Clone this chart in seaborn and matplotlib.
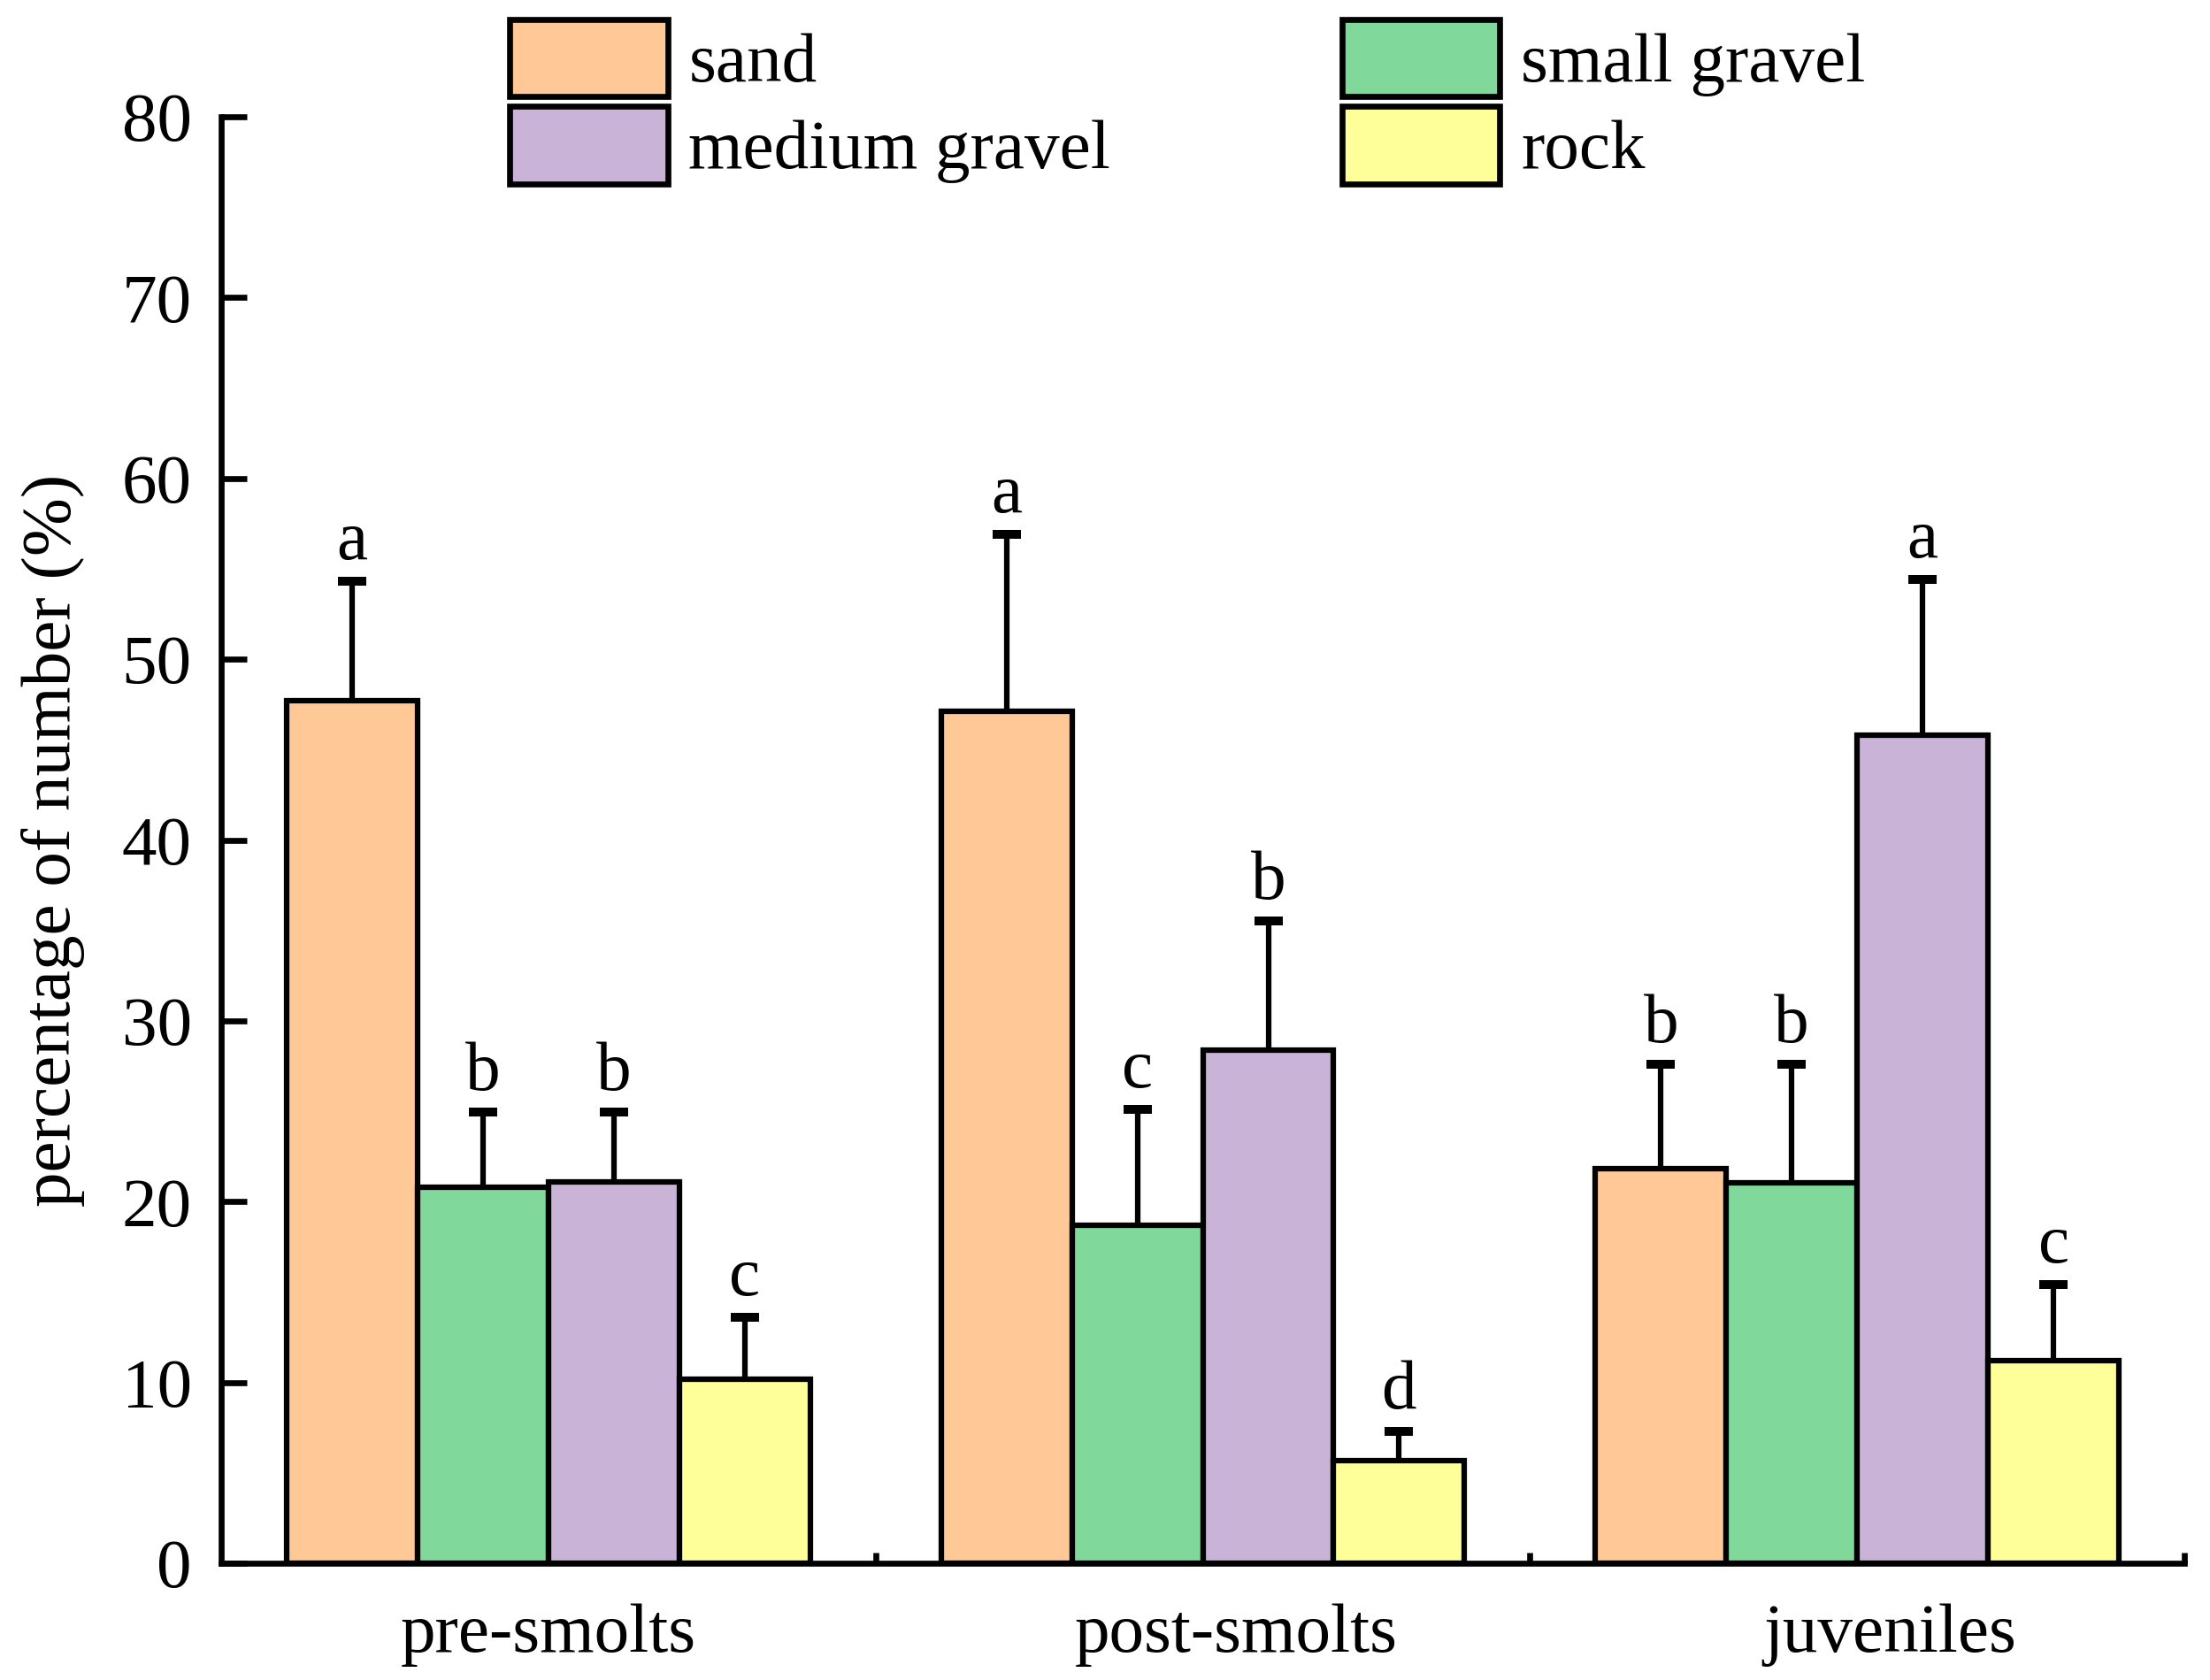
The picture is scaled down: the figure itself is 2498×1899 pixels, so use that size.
import numpy as np
import pandas as pd
import matplotlib
matplotlib.use("Agg")
import matplotlib.pyplot as plt
from matplotlib.patches import Patch
from matplotlib.transforms import ScaledTranslation
import seaborn as sns

# ---- data ----
groups = ["pre-smolts", "post-smolts", "juveniles"]
substrates = ["sand", "small gravel", "medium gravel", "rock"]

sand = [47.7, 47.1, 21.8]
small_gravel = [20.8, 18.7, 21.05]
medium_gravel = [21.1, 28.4, 45.8]
rock = [10.2, 5.7, 11.2]

sand_err = [6.6, 9.8, 5.8]
small_gravel_err = [4.15, 6.4, 6.55]
medium_gravel_err = [3.85, 7.1, 8.6]
rock_err = [3.4, 1.6, 4.2]

sand_letters = ["a", "a", "b"]
small_gravel_letters = ["b", "c", "b"]
medium_gravel_letters = ["b", "b", "a"]
rock_letters = ["c", "d", "c"]

colors = ["#FFC896", "#80D99B", "#C9B3D7", "#FFFF99"]
y_ticks = [0, 10, 20, 30, 40, 50, 60, 70, 80]

means = [sand, small_gravel, medium_gravel, rock]
errs = [sand_err, small_gravel_err, medium_gravel_err, rock_err]
letters = [sand_letters, small_gravel_letters, medium_gravel_letters, rock_letters]

rows = []
for s, vals in zip(substrates, means):
    for g, v in zip(groups, vals):
        rows.append({"group": g, "substrate": s, "value": v})
df = pd.DataFrame(rows)

# ---- style ----
sns.set_style("ticks")
plt.rcParams["font.family"] = ["Liberation Serif", "DejaVu Serif"]
for k in ["text.color", "axes.labelcolor", "xtick.color", "ytick.color", "axes.edgecolor"]:
    plt.rcParams[k] = "black"
FS = 19

fig = plt.figure(figsize=(2498 / 300, 1899 / 300), dpi=300)
ax = fig.add_axes([0.1001, 0.0695, 0.8883, 0.861])

palette = dict(zip(substrates, colors))
sns.barplot(data=df, x="group", y="value", hue="substrate",
            order=groups, hue_order=substrates, palette=palette,
            width=0.8, gap=0, errorbar=None, edgecolor="black",
            linewidth=1.5, saturation=1, legend=False, ax=ax)

# error bars (upper only) and letters
for cont, e_list, l_list in zip(ax.containers, errs, letters):
    for bar, e, lab in zip(cont.patches, e_list, l_list):
        xc = bar.get_x() + bar.get_width() / 2
        h = bar.get_height()
        eb = ax.errorbar(xc, h, yerr=[[0], [e]], fmt="none", ecolor="black",
                         elinewidth=1.5, capsize=3.8, capthick=2.4, zorder=1)
        caps = eb[1]
        if len(caps) > 0:
            caps[0].set_visible(False)
        ax.annotate(lab, (xc, h + e), xytext=(0, 2), textcoords="offset points",
                    ha="center", va="bottom", fontsize=FS, color="black")

ax.set_xlim(-0.5, 2.5)
ax.set_ylim(0, 80)
ax.set_yticks(y_ticks)
ax.set_xlabel("")
ax.set_ylabel("percentage of number (%)", fontsize=FS, labelpad=10, color="black")

for side in ["top", "right"]:
    ax.spines[side].set_visible(False)
for side in ["left", "bottom"]:
    ax.spines[side].set_linewidth(1.6)
    ax.spines[side].set_color("black")

ax.tick_params(axis="y", direction="in", length=7, width=1.6, labelsize=FS, pad=8,
               colors="black")
ax.tick_params(axis="x", which="major", length=0, labelsize=FS, pad=11, colors="black")
ax.set_xticks([0.5, 1.5, 2.5], minor=True)
ax.tick_params(axis="x", which="minor", direction="in", length=3, width=1.6, colors="black")

# the reference's 2nd and 3rd category labels sit slightly right of centre
label_shift_pt = [0, 9, 9]
for lbl, dx in zip(ax.get_xticklabels(), label_shift_pt):
    lbl.set_transform(lbl.get_transform() + ScaledTranslation(dx / 72, 0, fig.dpi_scale_trans))

# legend
handles = [Patch(facecolor=palette[s], edgecolor="black", linewidth=1.6) for s in substrates]
order = [0, 2, 1, 3]  # column-major fill to get row-major display
fig.legend([handles[i] for i in order], [substrates[i] for i in order],
           ncol=2, loc="upper left", bbox_to_anchor=(0.2305, 0.9885),
           frameon=False, fontsize=FS, borderpad=0, handlelength=2.26,
           handleheight=1.32, handletextpad=0.3, columnspacing=3.3,
           labelspacing=0.14, borderaxespad=0)

fig.savefig("out.png", dpi=300, facecolor="white")
